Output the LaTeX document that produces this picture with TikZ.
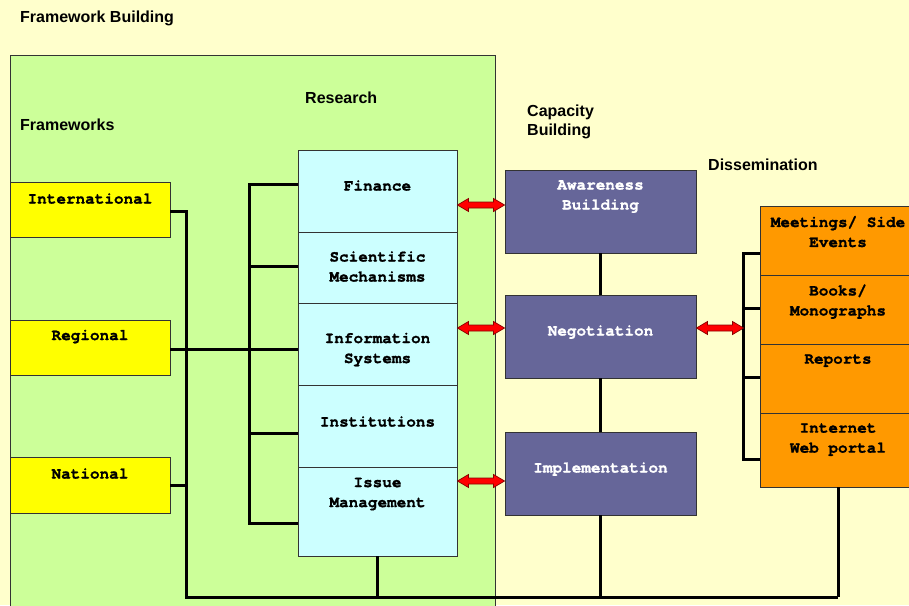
\documentclass[tikz,border=0pt]{standalone}
\usepackage{fontspec}
\setmainfont{Liberation Sans}
\newfontfamily\boxfont{texgyrecursor}[Extension=.otf, UprightFont=*-regular, BoldFont=*-bold, Ligatures=NoCommon, BoldFeatures={FakeBold=1.2}]
\usetikzlibrary{calc}
\definecolor{paper}{HTML}{FFFFCC}
\definecolor{frameGreen}{HTML}{CCFF99}
\definecolor{fwYellow}{HTML}{FFFF00}
\definecolor{resCyan}{HTML}{CCFFFF}
\definecolor{capPurple}{HTML}{666699}
\definecolor{disOrange}{HTML}{FF9900}
\definecolor{edge}{HTML}{333333}
\definecolor{arrowEdge}{HTML}{880000}
\begin{document}
\begin{tikzpicture}[x=1pt,y=-1pt,
  heading/.style={font=\bfseries\fontsize{16}{19}\selectfont, inner sep=0pt, anchor=west, align=left},
  boxbase/.style={draw=edge, line width=0.9pt, inner sep=0pt},
  fwbox/.style={boxbase, fill=fwYellow, minimum width=160pt},
  resbox/.style={boxbase, fill=resCyan, minimum width=159pt},
  capbox/.style={boxbase, fill=capPurple, minimum width=191pt, minimum height=83pt},
  disbox/.style={boxbase, fill=disOrange, minimum width=156pt},
  btext/.style={font=\boxfont\bfseries\fontsize{16}{20}\selectfont, inner sep=0pt, align=center},
  link/.style={draw=black, line width=3pt},
  redlink/.style={fill=red, draw=arrowEdge, line width=0.7pt, line join=miter,
    to path={let \p1=(\tikztostart), \p2=(\tikztotarget) in
      (\x1,\y1) -- (\x1+11pt,\y1+6.5pt) -- (\x1+11pt,\y1+3pt) -- (\x2-11pt,\y1+3pt)
      -- (\x2-11pt,\y1+6.5pt) -- (\x2,\y1) -- (\x2-11pt,\y1-6.5pt) -- (\x2-11pt,\y1-3pt)
      -- (\x1+11pt,\y1-3pt) -- (\x1+11pt,\y1-6.5pt) -- cycle}}
]
\useasboundingbox (0,0) rectangle (909,605);
\clip (0,0) rectangle (909,605);
\fill[paper] (0,0) rectangle (909,605);

% framework building area
\draw[draw=edge, line width=0.9pt, fill=frameGreen] (10,55) rectangle (495,640);

% headings
\node[heading] (hFB) at (20,18) {Framework Building};
\node[heading] (hFW) at (20,125) {Frameworks};
\node[heading] (hRS) at (305,98) {Research};
\node[heading] (hCB) at (527,121.5) {Capacity\\Building};
\node[heading] (hDS) at (708,165) {Dissemination};

% bus coordinates
\coordinate (busL) at (186,597);
\coordinate (busR) at (838,597);

% frameworks
\node[fwbox, minimum height=55pt] (intl) at (90,209.5) {};
\node[fwbox, minimum height=55pt] (reg)  at (90,347.5) {};
\node[fwbox, minimum height=56pt] (nat)  at (90,485) {};

% research
\node[resbox, minimum height=82pt] (fin) at (377.5,191) {};
\node[resbox, minimum height=71pt] (sci) at (377.5,267.5) {};
\node[resbox, minimum height=82pt] (inf) at (377.5,344) {};
\node[resbox, minimum height=82pt] (ins) at (377.5,426) {};
\node[resbox, minimum height=89pt] (iss) at (377.5,511.5) {};

% capacity building
\node[capbox] (aw)  at (600.5,211.5) {};
\node[capbox] (neg) at (600.5,336.5) {};
\node[capbox] (imp) at (600.5,473.5) {};

% dissemination
\node[disbox, minimum height=69pt] (mtg) at (838,240.5) {};
\node[disbox, minimum height=69pt] (bks) at (838,309.5) {};
\node[disbox, minimum height=69pt] (rep) at (838,378.5) {};
\node[disbox, minimum height=74pt] (web) at (838,450) {};

% box texts
\node[btext] (intl-t) at ([yshift=-17pt]intl.north) {International};
\node[btext] (reg-t)  at ([yshift=-17pt]reg.north) {Regional};
\node[btext] (nat-t)  at ([yshift=-17pt]nat.north) {National};
\node[btext] (fin-t) at ([yshift=-36pt]fin.north) {Finance};
\node[btext] (sci-t) at ([yshift=-35pt]sci.north) {Scientific\\Mechanisms};
\node[btext] (inf-t) at ([yshift=-47pt]inf.north) {Information\\Systems};
\node[btext] (ins-t) at ([yshift=-37pt]ins.north) {Institutions};
\node[btext] (iss-t) at ([yshift=-27.5pt]iss.north) {Issue\\Management};
\node[btext, text=white] (aw-t)  at ([yshift=-27pt]aw.north) {Awareness\\Building};
\node[btext, text=white] (neg-t) at ([yshift=-37.5pt]neg.north) {Negotiation};
\node[btext, text=white] (imp-t) at ([yshift=-37.5pt]imp.north) {Implementation};
\node[btext] (mtg-t) at ([yshift=-26pt]mtg.north) {Meetings/ Side\\Events};
\node[btext] (bks-t) at ([yshift=-27pt]bks.north) {Books/\\Monographs};
\node[btext] (rep-t) at ([yshift=-17pt]rep.north) {Reports};
\node[btext] (web-t) at ([yshift=-27pt]web.north) {Internet\\Web portal};

% framework links and the common bus
\draw[link] ([yshift=-1.5pt]intl.east) -| (busL) -- (busR);
\draw[link] (nat.east) -- (nat.east -| busL);
\draw[link] ([yshift=-1.5pt]reg.east) -- ([yshift=-1.5pt]reg.east -| inf.west);
\draw[link] (iss.south) -- (iss.south |- busL);
\draw[link] (imp.south) -- (imp.south |- busL);
\draw[link] (web.south) -- (web.south |- busR);

% research bracket
\draw[link] ([yshift=7pt]fin.west) -- ++(-48,0) |- ([yshift=-11.5pt]iss.west);
\draw[link] ([yshift=1.5pt]sci.west) -- ++(-48,0);
\draw[link] ([yshift=-7pt]ins.west) -- ++(-48,0);

% capacity building chain
\draw[link] (aw.south) -- (neg.north);
\draw[link] (neg.south) -- (imp.north);

% dissemination bracket
\draw[link] ([yshift=-12.5pt]mtg.west) -- ++(-16,0) |- ([yshift=-9pt]web.west);
\draw[link] ([yshift=1.5pt]bks.west) -- ++(-16,0);
\draw[link] ([yshift=1.5pt]rep.west) -- ++(-16,0);
\coordinate (disJoin) at ([xshift=-16pt,yshift=-18.5pt]bks.west);

% two-way exchanges
\draw[redlink] ([yshift=-14pt]fin.east) to ([yshift=6.5pt]aw.west);
\draw[redlink] ([yshift=16pt]inf.east) to ([yshift=8.5pt]neg.west);
\draw[redlink] ([yshift=30.5pt]iss.east) to ([yshift=-7.5pt]imp.west);
\draw[redlink] ([yshift=8.5pt]neg.east) to (disJoin);
\end{tikzpicture}
\end{document}
